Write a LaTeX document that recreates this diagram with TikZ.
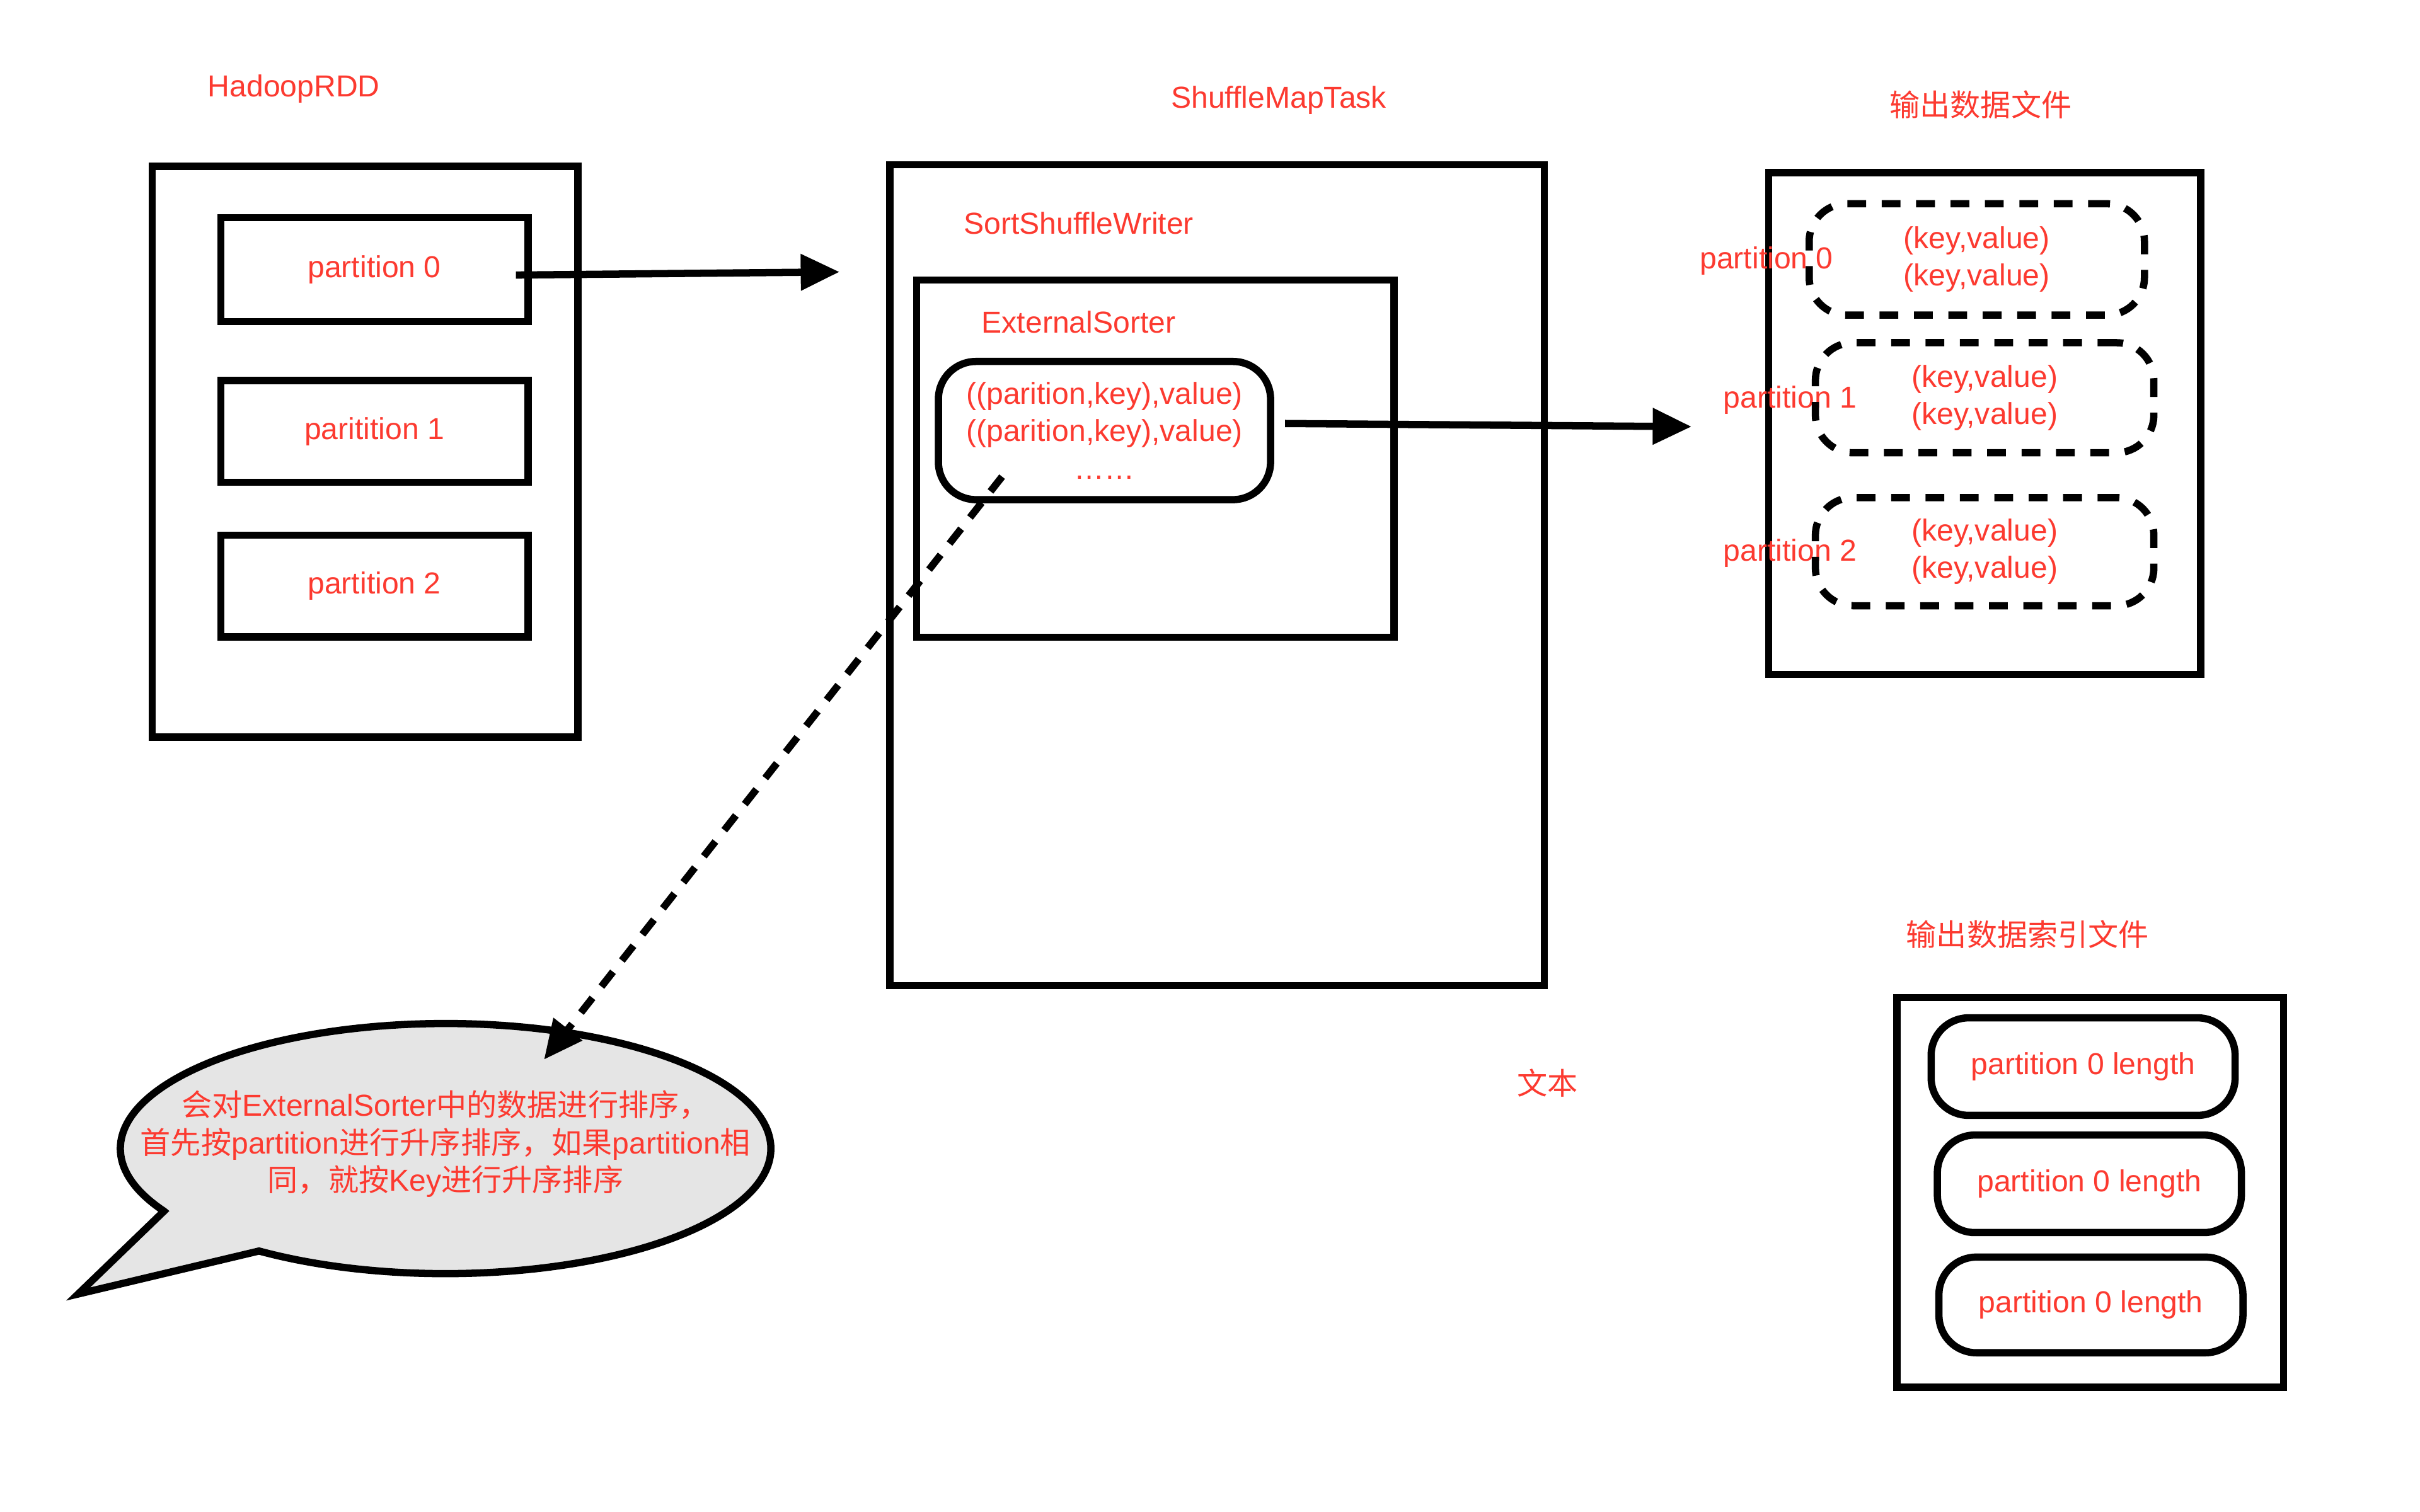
\documentclass[tikz,border=0pt]{standalone}
\usepackage{fontspec}
\setmainfont{Liberation Sans}
\newfontfamily\cjk{Noto Sans CJK SC}
\usetikzlibrary{arrows.meta}
\definecolor{txtred}{RGB}{252,58,48}
\definecolor{bubblegray}{RGB}{229,229,229}
\begin{document}
\begin{tikzpicture}[x=0.025cm,y=-0.025cm,
  lw/.style={line width=3.3pt},
  box/.style={draw=black, lw, rectangle, inner sep=0pt},
  rbox/.style={box, rounded corners=0.6cm},
  dbox/.style={box, rounded corners=0.6cm, dash pattern=on 0.3cm off 0.25cm},
  lbl/.style={text=txtred, font=\fontsize{13.8}{17}\selectfont, inner sep=0pt},
  conn/.style={lw, -{Triangle[length=0.62cm, width=0.56cm]}},
  dconn/.style={conn, dash pattern=on 0.3cm off 0.23cm}
]
\fill[white] (0,0) rectangle (1548,967.5);
\useasboundingbox (0,0) rectangle (1548,967.5);

% HadoopRDD
\node[lbl] (hadooplbl) at (188,57) {HadoopRDD};
\node[box, minimum width=6.81cm, minimum height=9.13cm] (hadoop) at (233.5,289) {};
\node[box, lbl, minimum width=4.91cm, minimum height=1.66cm] (p0) at (239.5,172.5) {partition 0};
\node[box, lbl, minimum width=4.91cm, minimum height=1.63cm] (p1) at (239.5,276) {paritition 1};
\node[box, lbl, minimum width=4.91cm, minimum height=1.63cm] (p2) at (239.5,375) {partition 2};

% ShuffleMapTask
\node[lbl] (smtlbl) at (818,64) {ShuffleMapTask};
\node[box, minimum width=10.46cm, minimum height=13.13cm] (smt) at (778.5,368) {};
\node[lbl] (sswlbl) at (690,143) {SortShuffleWriter};
\node[box, minimum width=7.63cm, minimum height=5.71cm] (es) at (739,293.5) {};
\node[lbl] (eslbl) at (690,206) {ExternalSorter};
\node[rbox, lbl, align=center, minimum width=5.31cm, minimum height=2.21cm] (data) at (706.5,275.5)
  {((parition,key),value)\\((parition,key),value)\\……};

% output data file
\node[lbl] (outlbl) at (1267,67) {\cjk 输出数据文件};
\node[box, minimum width=6.91cm, minimum height=8.03cm] (out) at (1269.5,271) {};
\node[lbl] (op0) at (1130,167) {partition 0};
\node[lbl] (op1) at (1145,256) {partition 1};
\node[lbl] (op2) at (1145,354) {partition 2};
\node[dbox, lbl, align=center, minimum width=5.36cm, minimum height=1.78cm] (kv0) at (1264.5,166) {(key,value)\\(key,value)};
\node[dbox, lbl, align=center, minimum width=5.41cm, minimum height=1.76cm] (kv1) at (1269.5,254.5) {(key,value)\\(key,value)};
\node[dbox, lbl, align=center, minimum width=5.41cm, minimum height=1.73cm] (kv2) at (1269.5,353) {(key,value)\\(key,value)};

% index file
\node[lbl] (idxlbl) at (1297,598) {\cjk 输出数据索引文件};
\node[box, minimum width=6.18cm, minimum height=6.23cm] (idx) at (1337,763) {};
\node[rbox, lbl, minimum width=4.86cm, minimum height=1.56cm] (l0) at (1332.5,682.5) {partition 0 length};
\node[rbox, lbl, minimum width=4.86cm, minimum height=1.56cm] (l1) at (1336.5,757.5) {partition 0 length};
\node[rbox, lbl, minimum width=4.86cm, minimum height=1.53cm] (l2) at (1337.5,835) {partition 0 length};

% free text
\node[lbl] (wenben) at (990,693) {\cjk 文本};

% speech bubble
\draw[lw, fill=bubblegray, line join=miter] (104.9,775) -- (50,828) -- (165.7,800.5)
  arc[start angle=-125, end angle=210, x radius=5.2cm, y radius=2cm] -- cycle;
\node[lbl, align=center] (note) at (285,732)
  {{\cjk 会对}ExternalSorter{\cjk 中的数据进行排序，}\\{\cjk 首先按}partition{\cjk 进行升序排序，如果}partition{\cjk 相}\\{\cjk 同，就按}Key{\cjk 进行升序排序}};

% connectors
\coordinate (a1s) at (330,176);
\coordinate (a1e) at (537,174);
\draw[conn] (a1s) -- (a1e);
\coordinate (a2s) at (822,271);
\coordinate (a2e) at (1082,273);
\draw[conn] (a2s) -- (a2e);
\coordinate (a3s) at (641,305);
\coordinate (a3e) at (348,678);
\draw[dconn] (a3s) -- (a3e);
\end{tikzpicture}
\end{document}
